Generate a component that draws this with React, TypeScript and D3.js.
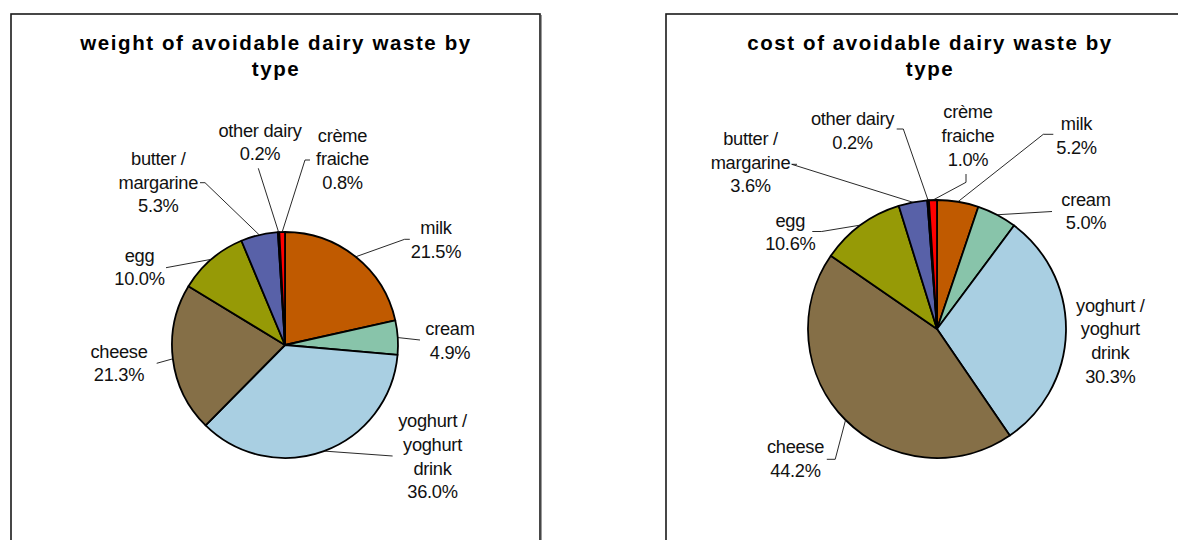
import React from 'react';
import * as d3 from 'd3';

// ---- data ----
const categories = [
  'milk',
  'cream',
  'yoghurt / yoghurt drink',
  'cheese',
  'egg',
  'butter / margarine',
  'other dairy',
  'crème fraiche',
];
const labelLines = [
  ['milk'],
  ['cream'],
  ['yoghurt /', 'yoghurt', 'drink'],
  ['cheese'],
  ['egg'],
  ['butter /', 'margarine'],
  ['other dairy'],
  ['crème', 'fraiche'],
];
const weightShares = [21.5, 4.9, 36.0, 21.3, 10.0, 5.3, 0.2, 0.8];
const costShares = [5.2, 5.0, 30.3, 44.2, 10.6, 3.6, 0.2, 1.0];
const sliceColors = ['#C05A00', '#88C4AA', '#A9CFE2', '#856F47', '#969A06', '#5861A8', '#000000', '#FF0000'];
const weightTitle = ['weight of avoidable dairy waste by', 'type'];
const costTitle = ['cost of avoidable dairy waste by', 'type'];

// ---- layout (positions only) ----
type LabelLayout = { cx: number; y: number; leader: [number, number][] };
type PanelLayout = {
  x: number;
  w: number;
  titleCx: number;
  pieCx: number;
  pieCy: number;
  r: number;
  labels: LabelLayout[];
};

const weightLayout: PanelLayout = {
  x: 11,
  w: 529,
  titleCx: 276,
  pieCx: 285,
  pieCy: 345,
  r: 113,
  labels: [
    { cx: 436, y: 234, leader: [[404.6, 239.3], [409.8, 239.3]] },
    { cx: 450, y: 335, leader: [[420, 340]] },
    { cx: 432.5, y: 427.3, leader: [[392.6, 456]] },
    { cx: 119, y: 357.7, leader: [[156.7, 363.3]] },
    { cx: 139.5, y: 261.7, leader: [[166, 267.7]] },
    { cx: 158.3, y: 165, leader: [[205, 182.7], [200, 182.7]] },
    { cx: 260, y: 136.7, leader: [[258.3, 168.3]] },
    { cx: 342.5, y: 141.7, leader: [[305, 160], [310, 160]] },
  ],
};

const costLayout: PanelLayout = {
  x: 666,
  w: 529,
  titleCx: 930,
  pieCx: 937,
  pieCy: 329,
  r: 129,
  labels: [
    { cx: 1076.5, y: 130, leader: [[1043.3, 134.3], [1053.3, 134.3]] },
    { cx: 1086, y: 205.7, leader: [[1052, 211.5]] },
    { cx: 1110.3, y: 311.7, leader: [] },
    { cx: 795.5, y: 453.3, leader: [[835.2, 459.3], [826.8, 459.3]] },
    { cx: 790.3, y: 226.7, leader: [[821.7, 231.5], [812.3, 231.5]] },
    { cx: 750.5, y: 145, leader: [[791.7, 164.3], [797, 164.3]] },
    { cx: 852.5, y: 125, leader: [[903.3, 129], [896.7, 129]] },
    { cx: 968, y: 118.3, leader: [[966, 182.3], [966, 174]] },
  ],
};

const LABEL_FONT = '"Liberation Sans", Arial, sans-serif';
const LINE_H = 23.6;
const fmt = d3.format('.1f');

function PiePanel({ values, title, layout }: { values: number[]; title: string[]; layout: PanelLayout }) {
  const pie = d3
    .pie<number>()
    .sort(null)
    .value((d) => d)
    .startAngle(0)
    .endAngle(2 * Math.PI);
  const arcs = pie(values);
  const arc = d3
    .arc<d3.PieArcDatum<number>>()
    .innerRadius(0)
    .outerRadius(layout.r);
  const line = d3.line();
  const { pieCx, pieCy, r } = layout;

  return (
    <g>
      {/* panel border with shadow */}
      <line x1={layout.x + layout.w + 1.5} y1={15} x2={layout.x + layout.w + 1.5} y2={560} stroke="#9a9a9a" strokeWidth={1} />
      <rect x={layout.x} y={14} width={layout.w} height={560} fill="#fff" stroke="#1a1a1a" strokeWidth={1.6} />
      {/* title */}
      <g fontFamily={LABEL_FONT} fontWeight="bold" fontSize={20.5} fill="#000" textAnchor="middle">
        {title.map((t, i) => (
          <text key={i} x={layout.titleCx} y={50 + i * 25.5} letterSpacing={1.6}>
            {t}
          </text>
        ))}
      </g>
      {/* slices */}
      <g transform={`translate(${pieCx},${pieCy})`}>
        {arcs.map((a, i) => (
          <path key={categories[i]} d={arc(a) || ''} fill={sliceColors[i]} stroke="#000" strokeWidth={1.8} strokeLinejoin="round" />
        ))}
      </g>
      {/* leader lines */}
      <g fill="none" stroke="#111" strokeWidth={0.9}>
        {arcs.map((a, i) => {
          const lab = layout.labels[i];
          if (!lab.leader.length) return null;
          const mid = (a.startAngle + a.endAngle) / 2;
          const start: [number, number] = [pieCx + r * Math.sin(mid), pieCy - r * Math.cos(mid)];
          return <path key={i} d={line([start, ...lab.leader]) || ''} />;
        })}
      </g>
      {/* labels */}
      <g fontFamily={LABEL_FONT} fontSize={18.3} fill="#111" textAnchor="middle">
        {arcs.map((a, i) => {
          const lab = layout.labels[i];
          const lines = [...labelLines[i], fmt(values[i]) + '%'];
          return (
            <text key={i} x={lab.cx} y={lab.y} letterSpacing={-0.3}>
              {lines.map((t, j) => (
                <tspan key={j} x={lab.cx} y={lab.y + j * LINE_H}>
                  {t}
                </tspan>
              ))}
            </text>
          );
        })}
      </g>
    </g>
  );
}

export default function App() {
  return (
    <svg
      width={1178}
      height={540}
      viewBox="0 0 1178 540"
      style={{ position: 'absolute', left: 0, top: 0, background: '#fff' }}
    >
      <rect x={0} y={0} width={1178} height={540} fill="#fff" />
      <PiePanel values={weightShares} title={weightTitle} layout={weightLayout} />
      <PiePanel values={costShares} title={costTitle} layout={costLayout} />
    </svg>
  );
}
